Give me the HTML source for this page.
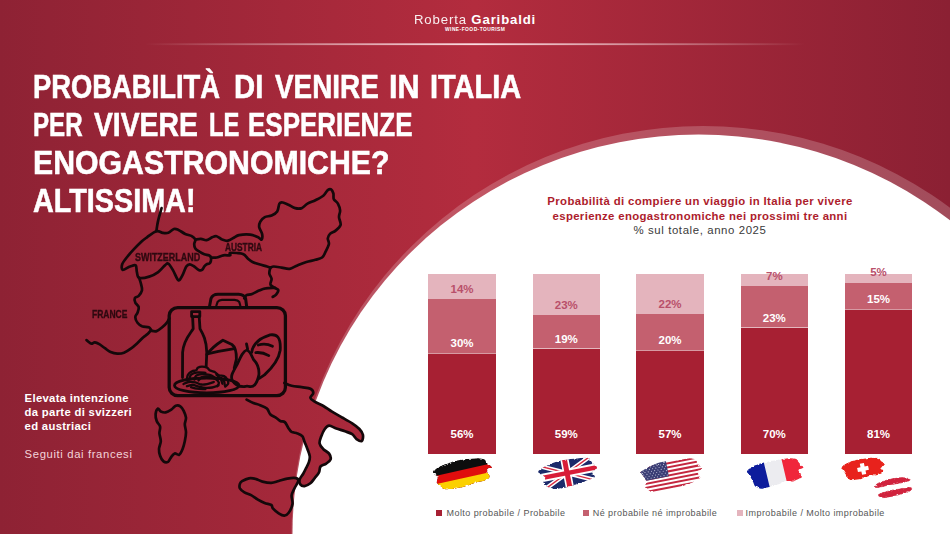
<!DOCTYPE html>
<html><head><meta charset="utf-8"><title>Slide</title>
<style>
html,body{margin:0;padding:0}
body{width:950px;height:534px;overflow:hidden;position:relative;background:linear-gradient(90deg,#8e2234 0%,#b32c3e 50%,#8b2033 100%);font-family:"Liberation Sans",sans-serif}
svg.full{position:absolute;left:0;top:0;width:950px;height:534px}
.t{position:absolute;white-space:nowrap;line-height:1}
.title{left:34.5px;color:#fff;font-weight:bold;font-size:34px;-webkit-text-stroke:0.6px #fff;transform-origin:0 0}
.seg{position:absolute}
.sep{position:absolute;height:1.2px;background:rgba(255,255,255,.55)}
.lab{position:absolute;width:60px;text-align:center;font-weight:bold;font-size:11.5px;line-height:13px;height:13px}
.ct{position:absolute;left:500px;width:400px;text-align:center;white-space:nowrap;line-height:1}
.lg{position:absolute;font-size:9px;letter-spacing:0.44px;color:#565656;white-space:nowrap;line-height:1;top:509.1px;transform-origin:0 0}
.sq{position:absolute;width:6px;height:6px;top:509.8px}
.ml{position:absolute;font-weight:bold;color:#2e0910;-webkit-text-stroke:0.35px #2e0910;font-size:11.6px;line-height:1;white-space:nowrap;transform-origin:0 0}
</style></head><body>
<div class="t title" style="top:69.2px;left:33.09px;transform:scaleX(0.8052)">PROBABILITÀ</div>
<div class="t title" style="top:69.2px;left:234.08px;transform:scaleX(0.8608)">DI</div>
<div class="t title" style="top:69.2px;left:274.90px;transform:scaleX(0.8196)">VENIRE</div>
<div class="t title" style="top:69.2px;left:388.60px;transform:scaleX(0.8999)">IN</div>
<div class="t title" style="top:69.2px;left:429.80px;transform:scaleX(0.8510)">ITALIA</div>
<div class="t title" style="top:107.2px;left:33.28px;transform:scaleX(0.7097)">PER</div>
<div class="t title" style="top:107.2px;left:94.30px;transform:scaleX(0.8320)">VIVERE</div>
<div class="t title" style="top:107.2px;left:209.33px;transform:scaleX(0.7000)">LE</div>
<div class="t title" style="top:107.2px;left:248.27px;transform:scaleX(0.7639)">ESPERIENZE</div>
<div class="t title" style="top:145.2px;left:32.92px;transform:scaleX(0.8901)">ENOGASTRONOMICHE?</div>
<div class="t title" style="top:183.2px;left:33.00px;transform:scaleX(0.8461)">ALTISSIMA!</div>

<svg class="full" viewBox="0 0 950 534">
<defs><linearGradient id="bg" gradientUnits="userSpaceOnUse" x1="0" y1="0" x2="950" y2="0"><stop offset="0" stop-color="#8e2234"/><stop offset="0.5" stop-color="#b32c3e"/><stop offset="1" stop-color="#8b2033"/></linearGradient>
<linearGradient id="ln" x1="0" x2="1" y1="0" y2="0"><stop offset="0" stop-color="#fff" stop-opacity="0"/><stop offset="0.5" stop-color="#ffe6ea" stop-opacity="0.95"/><stop offset="1" stop-color="#fff" stop-opacity="0"/></linearGradient>
</defs>
<rect x="145" y="43.3" width="660" height="1.8" fill="url(#ln)"/>
<ellipse cx="703" cy="534.5" rx="411.5" ry="408.5" fill="#fff" fill-opacity="0.2"/>
<ellipse cx="698.6" cy="534.5" rx="406.1" ry="400" fill="#fff"/>
<path d="M246.6,399.6 C247.7,400.2 251.2,402.1 253.4,403.0 C255.7,403.9 257.9,404.3 260.1,405.2 C262.4,406.1 265.2,407.1 266.9,408.6 C268.6,410.1 268.7,412.7 270.2,414.2 C271.7,415.7 274.1,416.5 275.8,417.6 C277.5,418.7 278.8,420.2 280.3,421.0 C281.8,421.8 283.5,421.0 284.8,422.1 C286.1,423.2 287.1,426.1 288.2,427.7 C289.3,429.3 290.1,430.9 291.6,431.9 C293.1,432.8 295.6,432.7 297.4,433.4 C299.2,434.1 301.1,434.8 302.3,436.2 C303.5,437.6 303.7,439.8 304.6,442.0 C305.5,444.2 306.6,446.8 307.5,449.2 C308.4,451.6 309.6,454.2 309.8,456.4 C310.0,458.6 309.5,460.3 308.9,462.2 C308.3,464.1 307.1,466.1 306.1,468.0 C305.2,469.9 304.3,471.8 303.2,473.7 C302.1,475.6 300.2,477.7 299.7,479.5 C299.2,481.3 299.5,483.3 300.3,484.4 C301.1,485.5 302.9,486.3 304.6,486.1 C306.3,485.9 308.7,484.6 310.4,483.3 C312.1,482.0 313.3,479.9 314.7,478.1 C316.1,476.3 318.0,474.2 319.0,472.3 C320.0,470.4 319.3,467.9 320.5,466.5 C321.7,465.1 324.5,464.8 326.2,463.6 C327.9,462.4 330.1,461.0 330.6,459.3 C331.1,457.6 330.3,455.3 329.1,453.6 C327.9,451.9 325.0,450.9 323.4,449.2 C321.8,447.5 320.0,445.7 319.6,443.5 C319.2,441.3 320.4,438.6 321.3,436.2 C322.2,433.8 323.5,430.8 324.8,429.0 C326.1,427.2 327.2,425.7 329.1,425.6 C331.0,425.5 333.7,427.6 336.3,428.5 C338.9,429.4 342.4,430.4 345.0,431.3 C347.6,432.2 350.3,432.9 352.2,434.2 C354.1,435.5 354.9,438.0 356.5,439.1 C358.1,440.2 360.6,441.8 361.7,441.1 C362.8,440.4 363.3,436.8 362.9,434.8 C362.5,432.8 361.2,430.9 359.4,429.0 C357.6,427.1 355.1,425.2 352.2,423.3 C349.3,421.4 345.5,419.4 342.1,417.5 C338.7,415.6 335.1,413.6 332.0,411.7 C328.9,409.8 326.3,407.7 323.4,406.0 C320.5,404.3 316.9,403.0 314.7,401.6 C312.5,400.2 310.6,399.3 310.4,397.9 C310.2,396.5 313.3,394.5 313.3,393.0 C313.3,391.5 312.3,389.7 310.4,388.7 C308.5,387.7 304.8,387.7 301.7,387.2 C298.6,386.7 294.5,386.5 291.6,385.8 C288.7,385.1 285.6,383.4 284.4,382.9 L284.4,382.9 L246.6,399.6Z" fill="url(#bg)" stroke="none"/><path d="M239.9,483.9 C240.3,482.7 240.6,482.1 242.1,481.2 C243.6,480.3 246.7,478.7 248.9,478.3 C251.2,477.9 253.3,478.3 255.6,478.9 C257.8,479.4 259.8,481.0 262.4,481.6 C265.0,482.2 268.6,482.9 271.3,482.8 C274.0,482.7 276.0,481.7 278.7,481.0 C281.4,480.3 284.4,479.1 287.3,478.6 C290.2,478.1 294.2,477.7 296.0,478.1 C297.8,478.5 298.6,479.3 298.3,481.0 C298.1,482.7 295.6,485.8 294.5,488.2 C293.4,490.6 291.9,492.8 291.6,495.4 C291.3,498.0 293.0,501.1 292.5,504.0 C292.0,506.9 290.1,510.8 288.7,512.7 C287.3,514.6 286.1,515.5 284.4,515.6 C282.7,515.7 280.6,514.5 278.7,513.3 C276.8,512.1 274.1,509.8 272.9,508.4 C271.7,507.0 272.7,505.9 271.3,505.0 C269.9,504.1 266.8,503.9 264.6,503.0 C262.4,502.1 260.1,500.9 257.9,499.6 C255.6,498.3 253.3,496.3 251.1,495.1 C248.8,493.9 246.3,493.5 244.4,492.4 C242.5,491.3 240.7,489.8 239.9,488.4 C239.2,487.0 239.5,485.1 239.9,483.9Z" fill="url(#bg)" stroke="none"/><g fill="none" stroke="#14080a" stroke-width="2.7" stroke-linecap="round" stroke-linejoin="round"><path d="M161.6,208.1 C161.3,209.0 160.6,211.6 160.0,213.7 C159.4,215.8 158.7,218.3 158.2,220.4 C157.7,222.5 157.4,224.3 157.1,226.1 C156.8,227.9 156.5,230.3 156.4,231.2"/><path d="M156.4,231.2 C153.8,231.9 149.5,235.5 147.0,237.3 C144.5,239.1 143.6,239.7 141.3,241.8 C139.1,243.9 135.9,247.1 133.5,249.7 C131.1,252.3 128.6,255.1 126.7,257.5 C124.8,259.9 122.9,262.2 122.2,264.3 C121.5,266.4 121.4,269.5 122.7,269.9 C124.0,270.3 127.9,267.2 130.1,266.5 C132.3,265.8 134.6,264.5 135.7,265.4 C136.8,266.3 136.3,270.0 136.9,272.1 C137.5,274.2 137.1,277.1 139.1,277.8 C141.1,278.6 146.0,277.6 149.2,276.6 C152.4,275.7 155.6,274.0 158.2,272.1 C160.8,270.2 163.2,266.8 164.9,265.4 C166.6,264.0 167.0,262.9 168.3,263.6 C169.6,264.4 171.3,267.3 172.8,269.9 C174.3,272.4 176.2,277.2 177.3,278.9 C178.4,280.6 178.7,280.8 179.6,280.0 C180.5,279.2 181.8,276.6 182.9,274.4 C184.0,272.1 185.2,268.2 186.3,266.5 C187.4,264.8 188.4,264.3 189.7,264.3 C191.0,264.3 192.7,265.6 194.2,266.5 C195.7,267.4 197.4,269.3 198.7,269.9 C200.0,270.5 201.1,270.5 202.0,269.9 C202.9,269.3 203.6,267.4 204.3,266.5 C205.1,265.6 205.6,264.9 206.5,264.3 C207.4,263.7 209.2,264.2 209.9,263.1 C210.7,262.0 211.2,258.8 211.0,257.5 C210.8,256.2 209.9,255.9 208.8,255.3 C207.7,254.8 205.8,254.8 204.3,254.2 C202.8,253.6 201.3,252.8 199.8,251.9 C198.3,251.0 196.2,249.8 195.3,248.5 C194.4,247.2 194.2,245.5 194.2,244.0 C194.2,242.5 195.7,240.9 195.3,239.6 C194.9,238.3 193.6,237.1 191.9,236.2 C190.2,235.2 187.4,234.9 185.2,233.9 C182.9,232.9 180.3,230.7 178.4,229.9 C176.5,229.1 175.6,228.5 173.9,229.0 C172.2,229.5 170.2,232.2 168.3,232.8 C166.4,233.4 164.7,233.1 162.7,232.8 C160.7,232.5 159.0,230.4 156.4,231.2Z"/><path d="M195.3,239.6 C196.2,239.5 199.0,238.8 200.9,238.9 C202.8,239.0 204.6,240.5 206.5,240.2 C208.4,239.9 210.4,238.0 212.1,237.3 C213.8,236.6 214.9,235.8 216.6,236.2 C218.3,236.6 220.3,238.8 222.2,239.6 C224.1,240.3 225.8,241.1 227.9,240.7 C230.0,240.3 232.8,238.2 234.6,237.3 C236.4,236.4 236.4,235.6 239.0,235.1 C241.6,234.6 247.0,234.2 250.2,234.6 C253.4,235.0 256.2,236.5 258.1,237.3 C260.0,238.1 260.8,240.2 261.5,239.6 C262.2,239.0 262.5,236.0 262.1,233.9 C261.7,231.8 259.5,229.2 259.2,227.2 C258.9,225.1 259.4,223.3 260.3,221.6 C261.2,219.9 262.9,218.1 264.8,217.1 C266.7,216.1 269.5,216.4 271.6,215.5 C273.7,214.6 275.9,213.5 277.2,211.5 C278.5,209.5 278.5,205.1 279.4,203.6 C280.3,202.1 281.3,202.3 282.8,202.5 C284.3,202.7 286.3,203.8 288.4,204.7 C290.5,205.6 292.9,207.5 295.2,208.1 C297.4,208.7 299.8,208.8 301.9,208.1 C303.9,207.3 305.2,204.9 307.5,203.6 C309.8,202.3 312.8,201.5 315.4,200.2 C318.0,198.9 321.2,197.4 323.3,195.7 C325.4,194.0 326.5,191.1 327.8,190.1 C329.1,189.1 330.2,188.8 331.1,189.4 C332.0,190.0 332.9,191.9 333.4,193.5 C333.8,195.1 333.1,197.4 333.8,199.1 C334.6,200.8 336.8,201.7 337.9,203.6 C338.9,205.5 339.9,208.1 340.1,210.3 C340.3,212.6 338.9,214.7 339.0,217.1 C339.1,219.5 341.2,222.7 340.6,224.9 C340.0,227.2 337.4,229.1 335.6,230.6 C333.8,232.1 331.3,232.6 330.0,233.9 C328.7,235.2 328.0,236.7 327.8,238.4 C327.6,240.1 329.3,241.8 328.9,244.0 C328.5,246.2 326.6,249.7 325.5,251.9 C324.4,254.2 323.8,256.2 322.1,257.5 C320.4,258.8 318.0,259.1 315.4,259.8 C312.8,260.6 309.4,261.1 306.4,262.0 C303.4,262.9 300.2,264.3 297.4,265.4 C294.6,266.5 292.2,268.4 289.6,268.8 C287.0,269.2 284.3,268.0 281.7,267.6 C279.1,267.2 275.7,266.5 273.8,266.5 C271.9,266.5 271.0,267.4 270.4,267.6"/><path d="M211.0,257.5 C211.9,257.5 214.5,257.9 216.6,257.5 C218.7,257.1 221.2,255.7 223.4,255.3 C225.7,254.9 229.0,255.7 230.1,255.3 C231.2,254.9 228.9,253.4 230.0,253.0 C231.1,252.6 234.4,252.8 236.7,253.0 C238.9,253.2 241.6,253.2 243.5,254.2 C245.4,255.1 246.5,257.4 248.0,258.7 C249.5,260.0 250.6,261.1 252.5,262.0 C254.4,262.9 256.8,263.6 259.2,264.3 C261.6,265.1 265.2,265.9 267.1,266.5 C269.0,267.1 269.8,267.4 270.4,267.6"/><path d="M270.4,267.6 C270.2,268.6 269.1,271.4 269.3,273.3 C269.5,275.2 271.4,277.0 271.6,278.9 C271.8,280.8 269.8,283.0 270.4,284.5 C270.9,286.0 273.6,287.0 274.9,287.9 C276.2,288.8 278.1,289.0 278.3,290.1 C278.5,291.2 277.0,293.5 276.1,294.6 C275.2,295.7 273.3,296.5 272.7,296.9"/><path d="M274.9,287.9 C273.3,288.0 268.3,287.9 265.6,288.4 C262.9,288.8 261.1,289.7 258.9,290.6 C256.6,291.5 254.2,293.2 252.1,294.0 C250.0,294.8 247.8,294.4 246.5,295.1 C245.2,295.9 244.7,297.9 244.3,298.5"/><path d="M139.1,277.8 C139.4,278.8 140.4,281.4 140.9,283.5 C141.4,285.6 142.4,288.1 142.0,290.2 C141.6,292.2 139.9,294.5 138.7,295.8 C137.5,297.1 135.4,297.0 134.8,298.1 C134.2,299.2 134.7,301.1 135.3,302.6 C136.0,304.1 138.3,305.4 138.7,307.1 C139.1,308.8 138.1,311.0 137.5,312.7 C136.9,314.4 135.3,315.5 135.3,317.2 C135.3,318.9 136.4,321.3 137.5,322.8 C138.6,324.3 140.1,325.4 142.0,326.2 C143.9,326.9 147.3,326.7 148.8,327.3 C150.3,327.9 150.6,329.2 151.0,329.6"/><path d="M151.0,330.2 C150.4,330.8 148.9,332.8 147.6,334.0 C146.3,335.2 144.8,335.9 143.1,337.4 C141.4,338.9 139.6,341.1 137.5,343.0 C135.4,344.9 133.1,347.1 130.8,348.7 C128.6,350.3 126.2,351.9 124.0,352.7 C121.8,353.5 119.5,353.7 117.3,353.6 C115.1,353.5 112.7,352.9 110.6,352.0 C108.5,351.1 106.8,349.5 104.9,348.2 C103.0,346.9 101.0,345.2 99.3,344.2 C97.6,343.2 96.1,342.5 94.8,342.4 C93.5,342.3 92.6,343.8 91.5,343.7 C90.4,343.6 88.9,342.1 88.1,341.5 C87.3,340.9 86.8,340.3 86.5,340.1"/><path d="M151.0,330.7 C151.9,330.8 154.7,331.7 156.6,331.1 C158.5,330.5 160.5,328.7 162.2,327.3 C163.9,325.9 165.5,324.3 166.7,322.8 C167.9,321.3 168.9,319.1 169.4,318.3"/><path d="M157.9,408.6 C157.0,409.1 155.8,412.1 155.6,414.2 C155.4,416.3 155.9,418.9 156.7,421.0 C157.4,423.1 159.6,424.6 160.1,426.6 C160.6,428.7 159.3,430.9 159.4,433.3 C159.5,435.7 160.9,438.6 160.8,441.2 C160.7,443.8 159.1,446.6 159.0,449.0 C158.9,451.4 159.3,453.7 160.1,455.8 C160.8,457.9 162.2,460.4 163.5,461.4 C164.8,462.4 166.7,462.6 168.0,461.9 C169.3,461.1 170.2,458.3 171.3,456.9 C172.4,455.5 173.4,453.9 174.7,453.5 C176.0,453.1 177.9,455.4 179.2,454.7 C180.5,453.9 181.7,451.2 182.6,449.0 C183.5,446.8 184.2,444.0 184.8,441.2 C185.4,438.4 186.0,435.0 186.0,432.2 C186.0,429.4 184.8,426.7 184.8,424.3 C184.8,421.9 186.2,419.9 186.0,417.6 C185.8,415.4 184.6,412.7 183.7,410.8 C182.8,408.9 181.6,407.2 180.3,406.3 C179.0,405.4 177.3,405.1 175.8,405.7 C174.3,406.3 173.0,408.6 171.3,409.7 C169.6,410.8 167.4,412.1 165.7,412.4 C163.9,412.7 162.1,412.1 160.8,411.5 C159.5,410.9 158.8,408.2 157.9,408.6Z"/><path d="M246.6,399.6 C247.7,400.2 251.2,402.1 253.4,403.0 C255.7,403.9 257.9,404.3 260.1,405.2 C262.4,406.1 265.2,407.1 266.9,408.6 C268.6,410.1 268.7,412.7 270.2,414.2 C271.7,415.7 274.1,416.5 275.8,417.6 C277.5,418.7 278.8,420.2 280.3,421.0 C281.8,421.8 283.5,421.0 284.8,422.1 C286.1,423.2 287.1,426.1 288.2,427.7 C289.3,429.3 290.1,430.9 291.6,431.9 C293.1,432.8 295.6,432.7 297.4,433.4 C299.2,434.1 301.1,434.8 302.3,436.2 C303.5,437.6 303.7,439.8 304.6,442.0 C305.5,444.2 306.6,446.8 307.5,449.2 C308.4,451.6 309.6,454.2 309.8,456.4 C310.0,458.6 309.5,460.3 308.9,462.2 C308.3,464.1 307.1,466.1 306.1,468.0 C305.2,469.9 304.3,471.8 303.2,473.7 C302.1,475.6 300.2,477.7 299.7,479.5 C299.2,481.3 299.5,483.3 300.3,484.4 C301.1,485.5 302.9,486.3 304.6,486.1 C306.3,485.9 308.7,484.6 310.4,483.3 C312.1,482.0 313.3,479.9 314.7,478.1 C316.1,476.3 318.0,474.2 319.0,472.3 C320.0,470.4 319.3,467.9 320.5,466.5 C321.7,465.1 324.5,464.8 326.2,463.6 C327.9,462.4 330.1,461.0 330.6,459.3 C331.1,457.6 330.3,455.3 329.1,453.6 C327.9,451.9 325.0,450.9 323.4,449.2 C321.8,447.5 320.0,445.7 319.6,443.5 C319.2,441.3 320.4,438.6 321.3,436.2 C322.2,433.8 323.5,430.8 324.8,429.0 C326.1,427.2 327.2,425.7 329.1,425.6 C331.0,425.5 333.7,427.6 336.3,428.5 C338.9,429.4 342.4,430.4 345.0,431.3 C347.6,432.2 350.3,432.9 352.2,434.2 C354.1,435.5 354.9,438.0 356.5,439.1 C358.1,440.2 360.6,441.8 361.7,441.1 C362.8,440.4 363.3,436.8 362.9,434.8 C362.5,432.8 361.2,430.9 359.4,429.0 C357.6,427.1 355.1,425.2 352.2,423.3 C349.3,421.4 345.5,419.4 342.1,417.5 C338.7,415.6 335.1,413.6 332.0,411.7 C328.9,409.8 326.3,407.7 323.4,406.0 C320.5,404.3 316.9,403.0 314.7,401.6 C312.5,400.2 310.6,399.3 310.4,397.9 C310.2,396.5 313.3,394.5 313.3,393.0 C313.3,391.5 312.3,389.7 310.4,388.7 C308.5,387.7 304.8,387.7 301.7,387.2 C298.6,386.7 294.5,386.5 291.6,385.8 C288.7,385.1 285.6,383.4 284.4,382.9"/><path d="M239.9,483.9 C240.3,482.7 240.6,482.1 242.1,481.2 C243.6,480.3 246.7,478.7 248.9,478.3 C251.2,477.9 253.3,478.3 255.6,478.9 C257.8,479.4 259.8,481.0 262.4,481.6 C265.0,482.2 268.6,482.9 271.3,482.8 C274.0,482.7 276.0,481.7 278.7,481.0 C281.4,480.3 284.4,479.1 287.3,478.6 C290.2,478.1 294.2,477.7 296.0,478.1 C297.8,478.5 298.6,479.3 298.3,481.0 C298.1,482.7 295.6,485.8 294.5,488.2 C293.4,490.6 291.9,492.8 291.6,495.4 C291.3,498.0 293.0,501.1 292.5,504.0 C292.0,506.9 290.1,510.8 288.7,512.7 C287.3,514.6 286.1,515.5 284.4,515.6 C282.7,515.7 280.6,514.5 278.7,513.3 C276.8,512.1 274.1,509.8 272.9,508.4 C271.7,507.0 272.7,505.9 271.3,505.0 C269.9,504.1 266.8,503.9 264.6,503.0 C262.4,502.1 260.1,500.9 257.9,499.6 C255.6,498.3 253.3,496.3 251.1,495.1 C248.8,493.9 246.3,493.5 244.4,492.4 C242.5,491.3 240.7,489.8 239.9,488.4 C239.2,487.0 239.5,485.1 239.9,483.9Z"/></g>
<g fill="none" stroke="#14080a" stroke-linecap="round" stroke-linejoin="round">
<rect x="169.2" y="307.6" width="116.2" height="88" rx="8.5" ry="8" stroke-width="3.3"/>
<path d="M209.6,306 L211,298.5 Q212.5,294.3 218,294.2 L238.5,294.2 Q244.3,294.5 245.6,298.5 L246.6,306" stroke-width="3"/>
<path d="M216.4,305.5 L217.6,301.8 Q218.8,299.9 222,299.8 L234.5,299.8 Q238,300 239.2,301.8 L240.3,305.5" stroke-width="2.2"/>
<g stroke-width="2.8">
<rect x="191.6" y="311.6" width="8.2" height="5"/>
<path d="M192.6,316.6 L193.2,328.8 C190,334 183.5,340 182.6,352.4 L182.5,377.5"/>
<path d="M199.2,316.6 L200,328.8 C203,334 206.5,340 206.8,352.4 L206.2,366"/>
<path d="M206.8,354.6 C210,350 213,346.5 222.9,340.2 L231.9,344.5 C235.5,347 236.5,352 236.4,359.2 L234.2,368.2"/>
<path d="M208.4,353.6 L218.4,351.3 L234.5,348.6"/>
<path d="M246.5,343.9 L247.6,349"/>
<path d="M246.8,350 C243,351 240.5,357 237.5,363.8 C233,372 230,376 232.4,380.5 C235,385 240,386.8 244.3,386.6 C246,386 248,386 250,386.6 C254,387 257,384 258.9,374.9 C259.5,368 256,362 253.3,359.2 C251,354 250,351 246.8,350Z"/>
<path d="M251.7,352.4 C252.5,346 257,339 270.1,334.9 C277,334 281,337 280.2,350.2 C279,358 273,367 264.5,374.9 L259.3,378.3"/>
<path d="M258.3,345 C263,343.6 268,344 272.5,346.2 M255.8,352.6 C260,352.2 265,353.4 268.8,355.6"/>
<ellipse cx="206.7" cy="385.4" rx="32.2" ry="7.4"/>
</g>
<g stroke-width="2.3">
<path d="M186.9,379.0 C187.1,378.3 187.1,376.1 187.9,374.8 C188.7,373.5 190.5,372.1 191.9,371.4 C193.3,370.6 195.1,370.9 196.1,370.3 C197.1,369.7 196.8,368.4 197.8,367.8 C198.8,367.2 200.4,366.6 202.0,366.6 C203.6,366.6 205.8,367.0 207.1,367.6 C208.4,368.2 208.3,369.6 209.6,370.3 C210.9,371.0 213.1,371.1 214.7,371.9 C216.2,372.7 217.3,374.5 218.9,375.2 C220.5,375.9 222.6,375.4 224.0,376.1 C225.4,376.8 226.6,378.2 227.3,379.5 C228.0,380.8 228.5,382.5 228.2,383.7 C227.8,384.9 225.7,386.1 225.2,386.6"/>
<path d="M189.2,379.6 C189.5,378.8 189.7,375.8 191.1,374.6 C192.5,373.4 195.4,372.7 197.8,372.4 C200.2,372.1 204.1,372.8 205.4,372.9"/>
<path d="M194.5,379.6 C194.8,379.0 194.8,376.6 196.1,375.7 C197.3,374.8 199.8,374.2 202.0,374.1 C204.2,374.0 207.3,374.3 209.6,374.9 C211.8,375.5 214.5,377.4 215.5,377.9"/>
<path d="M198.5,380.5 C199.1,379.9 200.3,377.8 202.0,377.1 C203.7,376.5 206.6,376.3 208.8,376.6 C211.1,376.9 213.8,378.1 215.5,379.1 C217.2,380.1 218.6,381.6 218.9,382.8 C219.2,384.0 217.5,385.6 217.2,386.2"/>
<path d="M183.5,384.1 C184.3,383.8 186.5,382.3 188.5,382.0 C190.5,381.7 193.2,382.0 195.3,382.4 C197.4,382.8 199.2,384.2 201.2,384.5 C203.2,384.8 205.0,384.5 207.1,384.1 C209.2,383.7 212.7,382.4 213.8,382.0"/>
<path d="M186.9,386.2 C187.9,386.0 190.8,384.8 192.8,384.9 C194.8,385.0 196.6,386.1 198.7,386.6 C200.8,387.1 203.2,387.8 205.4,387.9 C207.7,388.0 210.0,387.9 212.2,387.5 C214.4,387.1 217.4,385.8 218.5,385.4"/>
<path d="M221.0,377.9 C221.5,378.4 223.4,379.9 224.0,381.1 C224.6,382.4 224.7,384.7 224.8,385.4"/>
<path d="M216.4,374.6 C217.1,375.3 219.6,377.3 220.6,378.8 C221.6,380.3 222.1,382.9 222.4,383.7"/>
<path d="M191.1,387.2 C192.1,387.4 194.6,388.4 197.0,388.7 C199.4,389.0 204.0,389.0 205.4,389.1"/>
</g>
</g>
<defs><filter id="fb" x="-5%" y="-10%" width="110%" height="120%"><feTurbulence type="fractalNoise" baseFrequency="0.35 0.9" numOctaves="2" seed="4" result="n"/><feDisplacementMap in="SourceAlpha" in2="n" scale="4.5" xChannelSelector="R" yChannelSelector="G" result="m"/><feComposite in="SourceGraphic" in2="m" operator="in"/><feGaussianBlur stdDeviation="0.3"/></filter></defs>
<g filter="url(#fb)">
<clipPath id="cde"><path d="M433.0,471.0 C434.0,469.7 437.3,467.7 440.2,466.3 C443.1,464.9 446.5,463.6 450.3,462.5 C454.1,461.4 458.7,460.3 462.9,459.6 C467.1,458.9 472.1,458.4 475.6,458.3 C479.1,458.2 482.1,458.4 484.0,459.2 C485.9,460.0 485.7,461.6 487.0,463.0 C488.3,464.4 491.9,466.6 492.0,467.6 C492.1,468.6 488.1,468.0 487.4,468.9 C486.7,469.8 487.4,471.3 487.8,472.7 C488.2,474.1 490.1,476.0 489.5,477.3 C488.9,478.6 486.3,479.9 484.0,480.7 C481.7,481.5 478.4,481.6 475.6,482.4 C472.8,483.2 470.0,484.8 467.2,485.7 C464.4,486.6 461.5,487.2 458.7,487.8 C455.9,488.4 452.8,489.0 450.3,489.1 C447.8,489.2 445.2,489.3 443.5,488.7 C441.8,488.1 441.3,486.8 440.2,485.7 C439.1,484.6 437.2,483.8 436.8,482.4 C436.4,481.0 438.0,478.7 437.6,477.3 C437.2,475.9 435.1,474.9 434.3,473.9 C433.5,472.8 432.0,472.3 433.0,471.0Z"/></clipPath><g clip-path="url(#cde)"><rect x="425" y="452" width="80" height="45" fill="#0e0c0c"/><path d="M425,478.3 L500,461.4 L500,500 L425,500Z" fill="#e00a0a"/><path d="M425,486.5 L500,470.0 L500,500 L425,500Z" fill="#fbd000"/></g>
<clipPath id="cuk"><path d="M538.4,471.0 C539.5,469.6 543.7,467.1 546.9,465.5 C550.1,463.9 554.1,462.4 557.8,461.3 C561.4,460.2 565.0,459.8 568.8,459.2 C572.6,458.6 577.2,458.0 580.6,457.9 C584.0,457.8 587.1,457.5 589.0,458.3 C590.9,459.1 590.7,460.9 592.0,462.5 C593.3,464.1 596.9,466.0 597.0,467.6 C597.1,469.2 592.8,470.6 592.4,472.2 C592.0,473.8 595.5,475.6 594.9,476.9 C594.3,478.2 591.4,478.8 589.0,479.8 C586.6,480.9 583.4,482.2 580.6,483.2 C577.8,484.2 574.7,484.9 572.2,485.7 C569.7,486.5 568.2,487.2 565.4,487.8 C562.6,488.4 557.7,489.0 555.3,489.1 C552.9,489.2 552.9,489.0 551.1,488.3 C549.3,487.6 545.6,486.2 544.3,484.9 C543.0,483.6 543.4,482.0 543.5,480.7 C543.6,479.4 545.8,478.4 545.2,477.3 C544.6,476.2 541.2,474.9 540.1,473.9 C539.0,472.8 537.3,472.4 538.4,471.0Z"/></clipPath><g clip-path="url(#cuk)"><g transform="translate(567.1,473.1) rotate(-11)"><rect x="-32.0" y="-15.0" width="64" height="30" fill="#1c2a6b"/><path d="M-32.0,-15.0 L32.0,15.0 M32.0,-15.0 L-32.0,15.0" stroke="#fff" stroke-width="4.4"/><path d="M-32.0,-15.0 L32.0,15.0 M32.0,-15.0 L-32.0,15.0" stroke="#d62a40" stroke-width="1.4"/><path d="M0,-15.0 V15.0 M-32.0,0 H32.0" stroke="#fff" stroke-width="8.2"/><path d="M0,-15.0 V15.0" stroke="#d81f38" stroke-width="5"/><path d="M-32.0,0 H32.0" stroke="#d81f38" stroke-width="4.4"/></g></g>
<clipPath id="cus"><path d="M640.4,472.2 C641.2,471.1 644.7,469.4 647.2,468.0 C649.7,466.6 652.5,464.9 655.6,463.8 C658.7,462.7 662.3,462.0 665.7,461.3 C669.1,460.6 672.4,460.1 675.8,459.6 C679.2,459.1 682.8,458.4 686.0,458.3 C689.2,458.2 693.2,458.3 695.2,459.2 C697.2,460.1 696.6,462.4 697.8,463.8 C699.0,465.2 702.3,466.3 702.4,467.6 C702.5,468.9 699.2,470.2 698.6,471.4 C698.0,472.6 698.3,473.7 698.6,474.8 C698.9,475.9 700.7,477.1 700.3,478.1 C699.9,479.1 698.4,479.6 696.1,480.7 C693.9,481.8 689.8,483.8 686.8,484.9 C683.8,486.0 681.2,486.6 678.4,487.4 C675.6,488.2 672.7,489.2 669.9,489.9 C667.1,490.6 664.3,491.2 661.5,491.6 C658.7,492.0 655.2,492.2 653.1,492.1 C651.0,492.0 650.3,491.7 648.9,490.8 C647.5,489.9 645.0,488.0 644.6,486.6 C644.2,485.2 646.3,483.8 646.3,482.4 C646.3,481.0 645.3,479.4 644.6,478.1 C643.9,476.8 642.8,475.8 642.1,474.8 C641.4,473.8 639.5,473.3 640.4,472.2Z"/></clipPath><g clip-path="url(#cus)"><g transform="translate(671.6,474.8) rotate(-11)"><rect x="-34.0" y="-16.0" width="68" height="32" fill="#fff"/><rect x="-34.0" y="-13.00" width="68" height="2.00" fill="#c4283f"/><rect x="-34.0" y="-9.00" width="68" height="2.00" fill="#c4283f"/><rect x="-34.0" y="-5.00" width="68" height="2.00" fill="#c4283f"/><rect x="-34.0" y="-1.00" width="68" height="2.00" fill="#c4283f"/><rect x="-34.0" y="3.00" width="68" height="2.00" fill="#c4283f"/><rect x="-34.0" y="7.00" width="68" height="2.00" fill="#c4283f"/><rect x="-34.0" y="11.00" width="68" height="2.00" fill="#c4283f"/><rect x="-34.0" y="-16.0" width="31" height="17.00" fill="#3b3e75"/><circle cx="-29.0" cy="-11.8" r="0.55" fill="#c9cbe0"/><circle cx="-25.7" cy="-11.8" r="0.55" fill="#c9cbe0"/><circle cx="-22.4" cy="-11.8" r="0.55" fill="#c9cbe0"/><circle cx="-19.1" cy="-11.8" r="0.55" fill="#c9cbe0"/><circle cx="-15.8" cy="-11.8" r="0.55" fill="#c9cbe0"/><circle cx="-12.5" cy="-11.8" r="0.55" fill="#c9cbe0"/><circle cx="-9.2" cy="-11.8" r="0.55" fill="#c9cbe0"/><circle cx="-5.9" cy="-11.8" r="0.55" fill="#c9cbe0"/><circle cx="-27.4" cy="-9.6" r="0.55" fill="#c9cbe0"/><circle cx="-24.1" cy="-9.6" r="0.55" fill="#c9cbe0"/><circle cx="-20.8" cy="-9.6" r="0.55" fill="#c9cbe0"/><circle cx="-17.5" cy="-9.6" r="0.55" fill="#c9cbe0"/><circle cx="-14.2" cy="-9.6" r="0.55" fill="#c9cbe0"/><circle cx="-10.9" cy="-9.6" r="0.55" fill="#c9cbe0"/><circle cx="-7.6" cy="-9.6" r="0.55" fill="#c9cbe0"/><circle cx="-4.3" cy="-9.6" r="0.55" fill="#c9cbe0"/><circle cx="-29.0" cy="-7.3" r="0.55" fill="#c9cbe0"/><circle cx="-25.7" cy="-7.3" r="0.55" fill="#c9cbe0"/><circle cx="-22.4" cy="-7.3" r="0.55" fill="#c9cbe0"/><circle cx="-19.1" cy="-7.3" r="0.55" fill="#c9cbe0"/><circle cx="-15.8" cy="-7.3" r="0.55" fill="#c9cbe0"/><circle cx="-12.5" cy="-7.3" r="0.55" fill="#c9cbe0"/><circle cx="-9.2" cy="-7.3" r="0.55" fill="#c9cbe0"/><circle cx="-5.9" cy="-7.3" r="0.55" fill="#c9cbe0"/><circle cx="-27.4" cy="-5.1" r="0.55" fill="#c9cbe0"/><circle cx="-24.1" cy="-5.1" r="0.55" fill="#c9cbe0"/><circle cx="-20.8" cy="-5.1" r="0.55" fill="#c9cbe0"/><circle cx="-17.5" cy="-5.1" r="0.55" fill="#c9cbe0"/><circle cx="-14.2" cy="-5.1" r="0.55" fill="#c9cbe0"/><circle cx="-10.9" cy="-5.1" r="0.55" fill="#c9cbe0"/><circle cx="-7.6" cy="-5.1" r="0.55" fill="#c9cbe0"/><circle cx="-4.3" cy="-5.1" r="0.55" fill="#c9cbe0"/><circle cx="-29.0" cy="-2.8" r="0.55" fill="#c9cbe0"/><circle cx="-25.7" cy="-2.8" r="0.55" fill="#c9cbe0"/><circle cx="-22.4" cy="-2.8" r="0.55" fill="#c9cbe0"/><circle cx="-19.1" cy="-2.8" r="0.55" fill="#c9cbe0"/><circle cx="-15.8" cy="-2.8" r="0.55" fill="#c9cbe0"/><circle cx="-12.5" cy="-2.8" r="0.55" fill="#c9cbe0"/><circle cx="-9.2" cy="-2.8" r="0.55" fill="#c9cbe0"/><circle cx="-5.9" cy="-2.8" r="0.55" fill="#c9cbe0"/><circle cx="-27.4" cy="-0.6" r="0.55" fill="#c9cbe0"/><circle cx="-24.1" cy="-0.6" r="0.55" fill="#c9cbe0"/><circle cx="-20.8" cy="-0.6" r="0.55" fill="#c9cbe0"/><circle cx="-17.5" cy="-0.6" r="0.55" fill="#c9cbe0"/><circle cx="-14.2" cy="-0.6" r="0.55" fill="#c9cbe0"/><circle cx="-10.9" cy="-0.6" r="0.55" fill="#c9cbe0"/><circle cx="-7.6" cy="-0.6" r="0.55" fill="#c9cbe0"/><circle cx="-4.3" cy="-0.6" r="0.55" fill="#c9cbe0"/></g></g>
<clipPath id="cfr"><path d="M747.0,471.0 C747.9,469.9 750.1,467.7 752.9,466.3 C755.7,464.9 760.4,463.5 763.8,462.5 C767.2,461.5 770.1,460.9 773.1,460.4 C776.1,459.8 778.7,459.5 781.5,459.2 C784.3,458.9 787.5,458.3 790.0,458.3 C792.5,458.3 795.2,458.4 796.7,459.2 C798.2,460.0 798.1,461.6 799.2,463.0 C800.3,464.4 803.6,466.4 803.5,467.6 C803.4,468.8 798.8,469.1 798.4,470.1 C798.0,471.2 800.3,472.7 800.9,473.9 C801.5,475.1 802.5,476.3 801.8,477.3 C801.1,478.3 798.1,479.1 796.7,479.8 C795.3,480.5 795.0,481.3 793.3,481.5 C791.6,481.7 789.1,480.6 786.6,481.1 C784.1,481.6 781.0,483.5 778.2,484.5 C775.4,485.5 772.5,486.3 769.7,487.0 C766.9,487.7 763.7,488.8 761.3,488.7 C758.9,488.6 756.8,487.8 755.4,486.6 C754.0,485.4 753.8,483.2 752.9,481.5 C752.0,479.8 751.1,477.9 750.3,476.5 C749.4,475.1 748.3,474.0 747.8,473.1 C747.2,472.2 746.1,472.1 747.0,471.0Z"/></clipPath><g clip-path="url(#cfr)"><rect x="736" y="452" width="80" height="45" fill="#ececf0"/><path d="M763.8,462.5 L769.7,487.0 L772.3,497.0 L736.0,497.0 L736.0,452.0 L761.3,452.0Z" fill="#0c1f9c"/><path d="M781.5,459.2 L786.6,481.1 L790.0,497.0 L816.0,497.0 L816.0,452.0 L779.8,452.0Z" fill="#f0283a"/></g>
<clipPath id="cch"><path d="M841.5,467.6 C842.1,466.4 844.4,464.3 847.0,463.0 C849.6,461.7 853.6,460.5 857.1,459.6 C860.6,458.8 864.5,458.2 868.0,457.9 C871.5,457.6 876.1,457.5 878.2,457.9 C880.3,458.3 879.6,459.3 880.7,460.4 C881.8,461.5 884.8,463.5 884.9,464.6 C885.0,465.7 881.8,466.1 881.5,467.2 C881.2,468.3 883.8,470.1 883.2,471.4 C882.7,472.7 880.5,474.0 878.2,474.8 C876.0,475.6 872.5,475.3 869.7,476.0 C866.9,476.7 864.1,478.3 861.3,479.0 C858.5,479.7 855.1,480.2 852.9,480.2 C850.6,480.2 849.1,480.1 847.8,479.0 C846.5,477.9 846.1,475.3 845.3,473.9 C844.5,472.5 843.8,471.6 843.2,470.5 C842.6,469.4 840.9,468.9 841.5,467.6Z"/></clipPath><g clip-path="url(#cch)"><rect x="836" y="452" width="60" height="40" fill="#e8241a"/><g transform="translate(863.0,468.9) rotate(-12)"><path d="M-2.1,-5.6 h4.2 v3.4999999999999996 h3.4999999999999996 v4.2 h-3.4999999999999996 v3.4999999999999996 h-4.2 v-3.4999999999999996 h-3.4999999999999996 v-4.2 h3.4999999999999996z" fill="#fff"/></g></g>
<path d="M874.6,486.2 C875.0,485.5 876.7,484.1 878.7,483.1 C880.7,482.1 883.7,481.0 886.4,480.2 C889.1,479.4 892.0,478.7 894.7,478.3 C897.5,477.9 900.6,477.6 902.9,477.6 C905.2,477.7 907.6,478.1 908.7,478.6 C909.8,479.1 910.4,479.9 909.6,480.5 C908.9,481.1 906.4,481.6 904.2,482.1 C902.0,482.6 899.2,483.2 896.6,483.7 C894.0,484.2 891.0,484.7 888.3,485.3 C885.6,485.9 882.6,486.7 880.6,487.1 C878.6,487.5 877.2,487.6 876.2,487.5 C875.2,487.4 874.2,486.9 874.6,486.2Z" fill="#d0243d" stroke="#d0243d" stroke-width="0.9"/><path d="M878.7,494.5 C879.6,493.6 882.4,492.8 885.1,492.0 C887.8,491.2 891.5,490.3 894.7,489.7 C897.9,489.1 901.6,488.6 904.2,488.2 C906.9,487.8 909.4,487.2 910.6,487.5 C911.8,487.8 912.1,488.9 911.5,489.7 C910.9,490.5 908.9,491.5 906.8,492.3 C904.7,493.1 901.6,493.8 899.1,494.5 C896.6,495.2 894.0,495.9 891.5,496.4 C889.0,496.9 885.7,497.6 883.8,497.7 C881.9,497.8 880.9,497.6 880.0,497.1 C879.1,496.6 877.9,495.4 878.7,494.5Z" fill="#d0243d" stroke="#d0243d" stroke-width="0.9"/></g>

</svg>

<div class="t" style="left:414px;top:13.1px;font-size:13.2px;color:#fff;letter-spacing:0.846px"><span style="opacity:.92">Roberta</span> <b>Garibaldi</b></div>
<div class="t" style="left:445px;top:27.7px;font-size:4.9px;font-weight:bold;color:#fff;letter-spacing:0.455px">WINE-FOOD-TOURISM</div>

<div class="ml" style="left:135.3px;top:250.8px;transform:scaleX(0.772)">SWITZERLAND</div>
<div class="ml" style="left:225.3px;top:240.5px;transform:scaleX(0.72)">AUSTRIA</div>
<div class="ml" style="left:91.6px;top:308.3px;transform:scaleX(0.733)">FRANCE</div>

<div class="t" style="left:24.6px;top:390.5px;font-size:11.3px;font-weight:bold;color:#fff;line-height:14.1px;white-space:pre;letter-spacing:0.31px">Elevata intenzione
da parte di svizzeri
ed austriaci</div>
<div class="t" style="left:24.6px;top:449.2px;font-size:11.3px;color:#f3d3d9;letter-spacing:0.624px">Seguiti dai francesi</div>

<div class="ct" style="top:196.4px;font-size:11.4px;font-weight:bold;color:#ad1c2c;letter-spacing:0.36px">Probabilità di compiere un viaggio in Italia per vivere</div>
<div class="ct" style="top:210.7px;font-size:11.4px;font-weight:bold;color:#ad1c2c;letter-spacing:0.333px">esperienze enogastronomiche nei prossimi tre anni</div>
<div class="ct" style="top:225px;font-size:11.4px;color:#3a3a3a;letter-spacing:0.606px">% sul totale, anno 2025</div>

<div class="seg" style="left:428.4px;top:273.6px;width:67.4px;height:25.3px;background:#e4b4bd"></div><div class="seg" style="left:428.4px;top:298.9px;width:67.4px;height:54.2px;background:#c4606f"></div><div class="seg" style="left:428.4px;top:353.2px;width:67.4px;height:101.2px;background:#a72033"></div><div class="sep" style="left:428.4px;top:352.6px;width:67.4px"></div><div class="lab" style="left:432.09999999999997px;top:428.1px;color:#fff">56%</div><div class="lab" style="left:432.09999999999997px;top:336.9px;color:#fff">30%</div><div class="lab" style="left:432.09999999999997px;top:282.6px;color:#b9506a">14%</div><div class="seg" style="left:532.6px;top:273.6px;width:67.4px;height:41.2px;background:#e4b4bd"></div><div class="seg" style="left:532.6px;top:314.8px;width:67.4px;height:34.0px;background:#c4606f"></div><div class="seg" style="left:532.6px;top:348.8px;width:67.4px;height:105.6px;background:#a72033"></div><div class="sep" style="left:532.6px;top:348.2px;width:67.4px"></div><div class="lab" style="left:536.3000000000001px;top:428.1px;color:#fff">59%</div><div class="lab" style="left:536.3000000000001px;top:332.5px;color:#fff">19%</div><div class="lab" style="left:536.3000000000001px;top:298.5px;color:#b9506a">23%</div><div class="seg" style="left:636.4px;top:273.6px;width:67.4px;height:40.2px;background:#e4b4bd"></div><div class="seg" style="left:636.4px;top:313.8px;width:67.4px;height:36.5px;background:#c4606f"></div><div class="seg" style="left:636.4px;top:350.3px;width:67.4px;height:104.1px;background:#a72033"></div><div class="sep" style="left:636.4px;top:349.7px;width:67.4px"></div><div class="lab" style="left:640.1px;top:428.1px;color:#fff">57%</div><div class="lab" style="left:640.1px;top:334.0px;color:#fff">20%</div><div class="lab" style="left:640.1px;top:297.5px;color:#b9506a">22%</div><div class="seg" style="left:740.6px;top:273.6px;width:67.4px;height:12.7px;background:#e4b4bd"></div><div class="seg" style="left:740.6px;top:286.3px;width:67.4px;height:41.6px;background:#c4606f"></div><div class="seg" style="left:740.6px;top:327.8px;width:67.4px;height:126.6px;background:#a72033"></div><div class="sep" style="left:740.6px;top:327.2px;width:67.4px"></div><div class="lab" style="left:744.3000000000001px;top:428.1px;color:#fff">70%</div><div class="lab" style="left:744.3000000000001px;top:311.5px;color:#fff">23%</div><div class="lab" style="left:744.3000000000001px;top:270.0px;color:#b9506a">7%</div><div class="seg" style="left:844.8px;top:273.6px;width:67.4px;height:9.0px;background:#e4b4bd"></div><div class="seg" style="left:844.8px;top:282.6px;width:67.4px;height:26.9px;background:#c4606f"></div><div class="seg" style="left:844.8px;top:309.4px;width:67.4px;height:145.0px;background:#a72033"></div><div class="sep" style="left:844.8px;top:308.8px;width:67.4px"></div><div class="lab" style="left:848.5px;top:428.1px;color:#fff">81%</div><div class="lab" style="left:848.5px;top:293.1px;color:#fff">15%</div><div class="lab" style="left:848.5px;top:266.3px;color:#b9506a">5%</div>

<div class="sq" style="left:436.4px;background:#a72033"></div><div class="lg" style="left:446.5px">Molto probabile / Probabile</div>
<div class="sq" style="left:583.3px;background:#c4606f"></div><div class="lg" style="left:592.8px">Né probabile né improbabile</div>
<div class="sq" style="left:736.7px;background:#e4b4bd"></div><div class="lg" style="left:745.6px">Improbabile / Molto improbabile</div>
</body></html>
